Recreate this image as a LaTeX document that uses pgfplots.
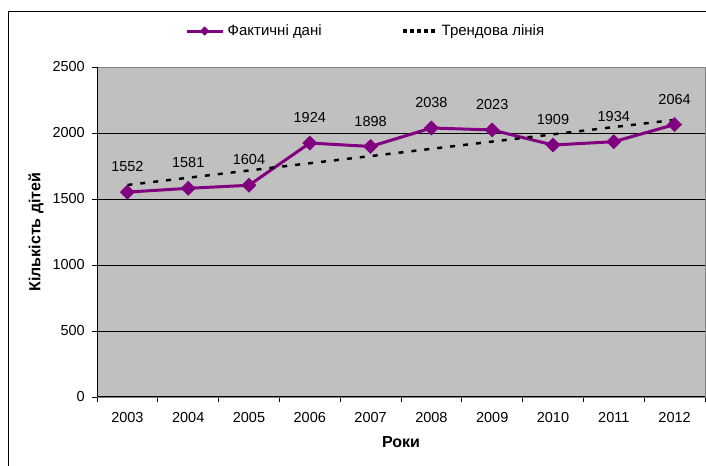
\documentclass[border=0pt]{standalone}
\usepackage{pgfplots}
\pgfplotsset{compat=1.18}
\usepackage{fontspec}
\setmainfont{Liberation Sans}
\definecolor{purp}{HTML}{800080}
\definecolor{plotgray}{HTML}{C0C0C0}
\definecolor{framegray}{HTML}{808080}
\pgfplotsset{
  purpleg/.style={legend image code/.code={\draw[mark repeat=2,mark phase=2,##1, mark size=3bp] plot coordinates {(0bp,0bp)(18bp,0bp)(36bp,0bp)};}},
  trendleg/.style={legend image code/.code={\draw[##1, line width=4bp, dash pattern=on 4bp off 3bp] (0bp,0bp) -- (33bp,0bp);}},
}
\begin{document}
\begin{tikzpicture}[font=\fontsize{14bp}{17bp}\selectfont]
\path[use as bounding box] (0,0) rectangle (706bp,466bp);
\draw[line width=1bp] (8bp,-5bp) -- (8bp,454bp) -- (712bp,454bp);
\begin{axis}[
  at={(97bp,69bp)}, anchor=south west,
  scale only axis, width=608bp, height=330bp,
  xmin=-0.5, xmax=9.5, ymin=0, ymax=2500,
  xtick={0,1,2,3,4,5,6,7,8,9},
  xticklabels={2003,2004,2005,2006,2007,2008,2009,2010,2011,2012},
  minor xtick={-0.5,0.5,1.5,2.5,3.5,4.5,5.5,6.5,7.5,8.5,9.5},
  ytick={0,500,1000,1500,2000,2500},
  every major x tick/.style={draw=none},
  major tick length=5bp, minor tick length=5bp,
  tick align=outside, tick pos=left,
  tick style={black, line width=0.7bp},
  axis background/.style={fill=plotgray},
  axis line style={draw=framegray, line width=0.8bp},
  ymajorgrids, major grid style={black, line width=0.7bp},
  /pgf/number format/assume math mode=true,
  /pgf/number format/1000 sep={},
  scaled y ticks=false,
  tick label style={font=\fontsize{14.5bp}{17bp}\selectfont},
  yticklabel style={inner sep=0pt, anchor=east, xshift=-7bp},
  xticklabel style={inner sep=0pt, anchor=north, yshift=-10bp},
  xlabel={\textbf{Роки}}, ylabel={\textbf{Кількість дітей}},
  every axis x label/.style={at={(axis description cs:0.5,-0.136)}, anchor=center, font=\fontsize{16bp}{18bp}\selectfont},
  every axis y label/.style={at={(axis description cs:-0.1003,0.5)}, rotate=90, anchor=center, font=\fontsize{16bp}{18bp}\selectfont},
  legend columns=2,
  legend style={draw=none, fill=none, at={(axis description cs:0.1447,1.109)}, anchor=west,
    inner sep=0pt, nodes={inner sep=1.5bp}, font=\fontsize{15bp}{17bp}\selectfont,
    /tikz/every even column/.append style={column sep=78bp},
    /tikz/every odd column/.append style={column sep=2bp}},
  after end axis/.code={\draw[black, line width=1bp] (rel axis cs:0,1) -- (rel axis cs:0,0) -- (rel axis cs:1,0);},
]
\addplot[purp, line width=3bp, mark=square*, mark size=5bp,
  mark options={rotate=45, fill=purp, draw=purp, line width=0.5bp},
  nodes near coords,
  every node near coord/.append style={text=black, anchor=south, inner sep=0pt, yshift=20bp, font=\fontsize{14.5bp}{17bp}\selectfont},
  purpleg
] coordinates {
  (0,1552) (1,1581) (2,1604) (3,1924) (4,1898)
  (5,2038) (6,2023) (7,1909) (8,1934) (9,2064)
};
\addlegendentry{Фактичні дані}
\addplot[black, line width=2.5bp, dash pattern=on 5bp off 8bp, trendleg] coordinates {
  (0,1606) (1,1661) (2,1716) (3,1771) (4,1825)
  (5,1880) (6,1935) (7,1990) (8,2045) (9,2099)
};
\addlegendentry{Трендова лінія}
\end{axis}
\end{tikzpicture}
\end{document}
